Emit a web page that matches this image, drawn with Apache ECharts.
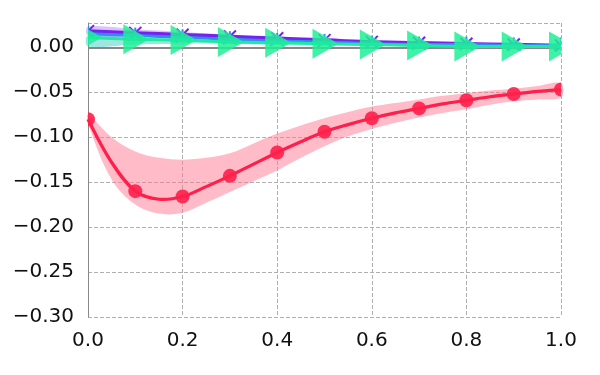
<!DOCTYPE html>
<html>
<head>
<meta charset="utf-8">
<script src="https://cdn.jsdelivr.net/npm/echarts@6/dist/echarts.min.js"></script>
<style>
  html, body { margin: 0; padding: 0; background: #fff; }
  #chart { width: 600px; height: 375px; }
</style>
</head>
<body>
<div id="chart"></div>
<script>
const xs = [0.0, 0.1, 0.2, 0.3, 0.4, 0.5, 0.6, 0.7, 0.8, 0.9, 1.0]

// red series markers
const redMean = [-0.080, -0.160, -0.166, -0.143, -0.117, -0.094, -0.079, -0.068, -0.059, -0.052, -0.047]
// red curve and band, read at 0.05 steps
const fineX = [0.0, 0.05, 0.1, 0.15, 0.2, 0.25, 0.3, 0.35, 0.4, 0.45, 0.5, 0.55, 0.6, 0.65, 0.7, 0.75, 0.8, 0.85, 0.9, 0.95, 1.0]
const redCurve = [-0.080, -0.128, -0.160, -0.169, -0.166, -0.155, -0.143, -0.130, -0.117, -0.105, -0.094, -0.086, -0.079, -0.073, -0.068, -0.063, -0.059, -0.055, -0.052, -0.049, -0.047]
const redUpper = [-0.075, -0.100, -0.116, -0.123, -0.125, -0.123, -0.118, -0.107, -0.096, -0.087, -0.079, -0.072, -0.066, -0.062, -0.058, -0.054, -0.051, -0.048, -0.046, -0.043, -0.040]
const redLower = [-0.085, -0.147, -0.175, -0.185, -0.184, -0.173, -0.161, -0.149, -0.137, -0.123, -0.110, -0.099, -0.091, -0.084, -0.078, -0.073, -0.069, -0.064, -0.060, -0.058, -0.056]

const purpleMean = [0.018, 0.016, 0.014, 0.012, 0.010, 0.008, 0.006, 0.005, 0.004, 0.003, 0.002]
const purpleUpper = [0.023, 0.020, 0.017, 0.014, 0.012, 0.010, 0.008, 0.006, 0.005, 0.004, 0.003]
const purpleLower = [0.013, 0.012, 0.011, 0.010, 0.008, 0.006, 0.004, 0.004, 0.003, 0.002, 0.001]

const blueMean = [0.015, 0.013, 0.011, 0.009, 0.007, 0.006, 0.004, 0.003, 0.003, 0.002, 0.002]

const greenMean = [0.011, 0.009, 0.008, 0.006, 0.005, 0.004, 0.003, 0.002, 0.001, 0.001, 0.001]
const greenUpper = [0.013, 0.011, 0.009, 0.007, 0.006, 0.005, 0.004, 0.003, 0.002, 0.002, 0.002]
const greenLower = [0.001, 0.003, 0.004, 0.004, 0.003, 0.003, 0.002, 0.001, 0.000, 0.000, 0.000]

const pairs = (xv, arr) => xv.map((x, i) => [x, arr[i]])

// shaded band between lower and upper, drawn as one polygon
function band(name, xv, lower, upper, color) {
  return {
    name: name, type: 'custom', silent: true, z: 1,
    data: [0],
    renderItem: (params, api) => {
      const top = xv.map((x, i) => api.coord([x, upper[i]]))
      const bot = xv.map((x, i) => api.coord([x, lower[i]])).reverse()
      return {
        type: 'polygon',
        shape: { points: top.concat(bot), smooth: 0.35 },
        style: { fill: color, stroke: 'none' }
      }
    }
  }
}

// smooth curve through the read points
function curve(name, xv, vals, color, width) {
  return {
    name: name, type: 'custom', silent: true, z: 4,
    data: [0],
    renderItem: (params, api) => ({
      type: 'polyline',
      shape: { points: xv.map((x, i) => api.coord([x, vals[i]])), smooth: 0.35 },
      style: { fill: 'none', stroke: color, lineWidth: width }
    })
  }
}

// markers, clipped at the plot edges like the original
function markers(name, vals, z, draw) {
  return {
    name: name, type: 'custom', silent: true, z: z, clip: true,
    data: pairs(xs, vals),
    encode: { x: 0, y: 1 },
    renderItem: (params, api) => {
      const p = api.coord([api.value(0), api.value(1)])
      return draw(p[0], p[1])
    }
  }
}

const seg = (x1, y1, x2, y2, color) => ({
  type: 'line', shape: { x1, y1, x2, y2 }, style: { stroke: color, lineWidth: 2 }
})

const chart = echarts.init(document.getElementById('chart'))

const option = {
  animation: false,
  grid: { left: 88, right: 39, top: 23, bottom: 58 },
  xAxis: {
    type: 'value', min: 0, max: 1, interval: 0.2,
    axisLine: { show: false },
    axisTick: { show: false },
    axisLabel: {
      color: '#111', fontSize: 20, fontFamily: 'DejaVu Sans', margin: 14,
      formatter: v => v.toFixed(1)
    },
    splitLine: { show: true, lineStyle: { color: '#b0b0b0', type: 'dashed', width: 1 } }
  },
  yAxis: {
    type: 'value', min: -0.30, max: 0.027, interval: 0.05,
    axisLine: { show: true, lineStyle: { color: '#888', width: 1 } },
    axisTick: { show: false },
    axisLabel: {
      color: '#111', fontSize: 20, fontFamily: 'DejaVu Sans', margin: 14,
      showMaxLabel: false,
      formatter: v => (v < -0.0001 ? '\u2212' + Math.abs(v).toFixed(2) : '0.00')
    },
    splitLine: { show: true, lineStyle: { color: '#b0b0b0', type: 'dashed', width: 1 } }
  },
  series: [
    band('redband', fineX, redLower, redUpper, 'rgba(255,120,145,0.5)'),
    band('purpleband', xs, purpleLower, purpleUpper, 'rgba(180,140,250,0.5)'),
    band('greenband', xs, greenLower, greenUpper, 'rgba(40,200,190,0.45)'),
    {
      name: 'zero', type: 'line', data: [], silent: true,
      markLine: {
        silent: true, symbol: 'none', label: { show: false },
        lineStyle: { color: '#888', type: 'solid', width: 2 },
        data: [{ yAxis: 0 }]
      }
    },
    curve('redcurve', fineX, redCurve, '#ff1f4b', 3.2),
    markers('red', redMean, 5, (x, y) => ({
      type: 'circle', shape: { cx: x, cy: y, r: 7 },
      style: { fill: 'rgba(255,31,75,0.9)' }
    })),
    {
      name: 'purple', type: 'line', data: pairs(xs, purpleMean), smooth: true,
      symbol: 'none', lineStyle: { color: '#7a1ff2', width: 3.5 }, z: 6
    },
    markers('purplemk', purpleMean, 6, (x, y) => ({
      type: 'group',
      children: [seg(x - 6, y - 6, x + 6, y + 6, '#7a1ff2'), seg(x - 6, y + 6, x + 6, y - 6, '#7a1ff2')]
    })),
    {
      name: 'blue', type: 'line', data: pairs(xs, blueMean), smooth: true,
      symbol: 'none', lineStyle: { color: '#2f8cf2', width: 3 }, z: 7
    },
    markers('bluemk', blueMean, 7, (x, y) => ({
      type: 'group',
      children: [seg(x, y, x, y - 8, '#2f8cf2'), seg(x, y, x - 7, y + 5, '#2f8cf2'), seg(x, y, x + 7, y + 5, '#2f8cf2')]
    })),
    {
      name: 'green', type: 'line', data: pairs(xs, greenMean), smooth: true,
      symbol: 'none', lineStyle: { color: '#1de9a0', width: 3 }, z: 8
    },
    markers('greenmk', greenMean, 8, (x, y) => ({
      type: 'polygon', shape: { points: [[x - 12, y - 15], [x - 12, y + 15], [x + 14, y]] },
      style: { fill: 'rgba(30,240,150,0.85)' }
    }))
  ]
}

chart.setOption(option)
</script>
</body>
</html>
